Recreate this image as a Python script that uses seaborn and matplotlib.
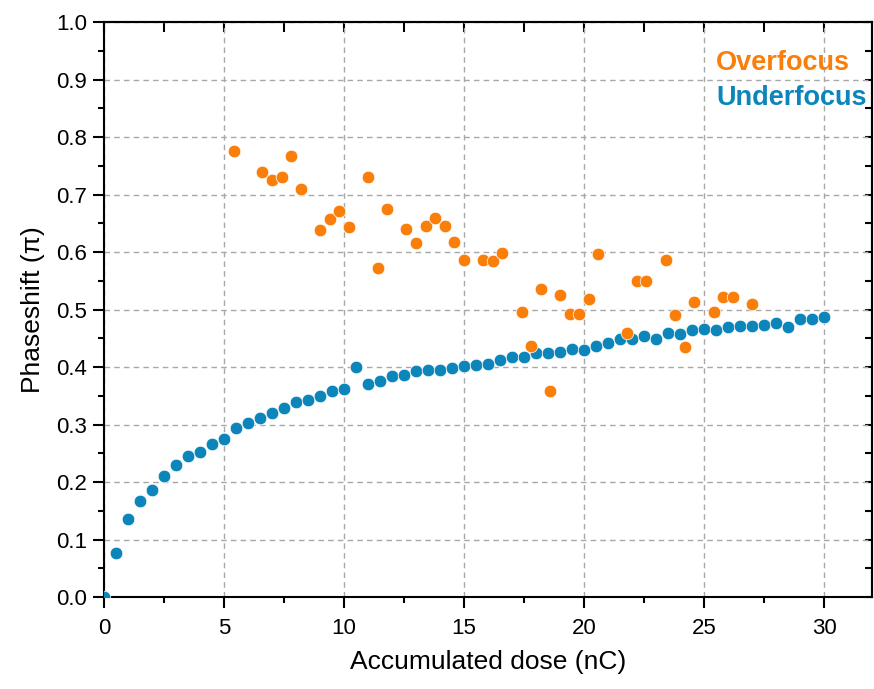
import numpy as np
import pandas as pd
import matplotlib
matplotlib.use("Agg")
import matplotlib.pyplot as plt
from matplotlib.ticker import MultipleLocator, FormatStrFormatter
import seaborn as sns

# underfocus: dose steps of 0.5 nC
under_dose = [i * 0.5 for i in range(61)]
under_phase = [0.000, 0.076, 0.135, 0.167, 0.186, 0.211, 0.230, 0.246, 0.253, 0.266,
               0.275, 0.294, 0.302, 0.312, 0.320, 0.329, 0.339, 0.342, 0.350, 0.359,
               0.362, 0.400, 0.371, 0.376, 0.384, 0.387, 0.393, 0.394, 0.394, 0.399,
               0.402, 0.404, 0.406, 0.413, 0.417, 0.417, 0.424, 0.425, 0.427, 0.431,
               0.430, 0.437, 0.442, 0.448, 0.449, 0.454, 0.448, 0.460, 0.458, 0.464,
               0.466, 0.464, 0.470, 0.471, 0.472, 0.473, 0.476, 0.469, 0.483, 0.483,
               0.487]

# overfocus
over_dose = [5.4, 6.6, 7.0, 7.4, 7.8, 8.2, 9.0, 9.4, 9.8, 10.2,
             11.0, 11.4, 11.8, 12.6, 13.0, 13.4, 13.8, 14.2, 14.6, 15.0,
             15.8, 16.2, 16.6, 17.4, 17.8, 18.2, 18.6, 19.0, 19.4, 19.8,
             20.2, 20.6, 21.8, 22.2, 22.6, 23.4, 23.8, 24.2, 24.6, 25.4,
             25.8, 26.2, 27.0]
over_phase = [0.775, 0.739, 0.726, 0.731, 0.767, 0.710, 0.639, 0.658, 0.671, 0.643,
              0.731, 0.573, 0.674, 0.640, 0.615, 0.645, 0.659, 0.646, 0.617, 0.586,
              0.586, 0.585, 0.598, 0.495, 0.437, 0.536, 0.358, 0.525, 0.493, 0.492,
              0.518, 0.597, 0.460, 0.550, 0.550, 0.587, 0.490, 0.435, 0.513, 0.495,
              0.521, 0.522, 0.510]

orange = "#FA7F0A"
blue = "#0B85BA"

sns.set_style("ticks")
plt.rcParams['font.family'] = ['Liberation Sans', 'DejaVu Sans']
plt.rcParams.update({"text.color": "black", "axes.labelcolor": "black",
                     "xtick.color": "black", "ytick.color": "black"})

fig = plt.figure(figsize=(8.74, 6.89), dpi=100)
ax = fig.add_axes([0.119, 0.1335, 0.8787, 0.8345])

under = pd.DataFrame({"dose": under_dose, "phase": under_phase})
over = pd.DataFrame({"dose": over_dose, "phase": over_phase})

sns.scatterplot(data=under, x="dose", y="phase", color=blue, s=82,
                edgecolor="white", linewidth=0.5, ax=ax, zorder=3)
sns.scatterplot(data=over, x="dose", y="phase", color=orange, s=82,
                edgecolor="white", linewidth=0.5, ax=ax, zorder=4)

ax.set_xlim(0, 32)
ax.set_ylim(0, 1.0)
ax.xaxis.set_major_locator(MultipleLocator(5))
ax.xaxis.set_minor_locator(MultipleLocator(2.5))
ax.yaxis.set_major_locator(MultipleLocator(0.1))
ax.yaxis.set_minor_locator(MultipleLocator(0.05))
ax.yaxis.set_major_formatter(FormatStrFormatter('%.1f'))

ax.grid(True, which="major", linestyle=(0, (4, 3)), color="#a8a8a8", linewidth=1.0)
ax.set_axisbelow(True)

for sp in ax.spines.values():
    sp.set_visible(True)
    sp.set_linewidth(1.5)
    sp.set_color("black")

ax.tick_params(which="major", direction="out", length=8, width=1.5, labelsize=16)
ax.tick_params(which="minor", direction="out", length=4.5, width=1.5)
ax.tick_params(axis="x", which="major", pad=7)
ax.tick_params(axis="y", which="major", pad=4)

# inward ticks on top and right, no labels
top = ax.secondary_xaxis("top")
top.xaxis.set_major_locator(MultipleLocator(5))
top.xaxis.set_minor_locator(MultipleLocator(2.5))
top.tick_params(which="both", direction="in", length=7, width=1.5, labeltop=False)
right = ax.secondary_yaxis("right")
right.yaxis.set_major_locator(MultipleLocator(0.1))
right.yaxis.set_minor_locator(MultipleLocator(0.05))
right.tick_params(which="both", direction="in", length=5, width=1.5, labelright=False)
for s in (top, right):
    for sp in s.spines.values():
        sp.set_linewidth(1.5)

ax.set_xlabel("Accumulated dose (nC)", fontsize=19, labelpad=8)
ax.set_ylabel("Phaseshift (π)", fontsize=19, labelpad=8)

ax.text(0.797, 0.929, "Overfocus", color=orange, fontsize=19.5, fontweight="bold",
        transform=ax.transAxes, va="center", ha="left")
ax.text(0.797, 0.868, "Underfocus", color=blue, fontsize=19.5, fontweight="bold",
        transform=ax.transAxes, va="center", ha="left")

fig.savefig("out.png", dpi=100)
